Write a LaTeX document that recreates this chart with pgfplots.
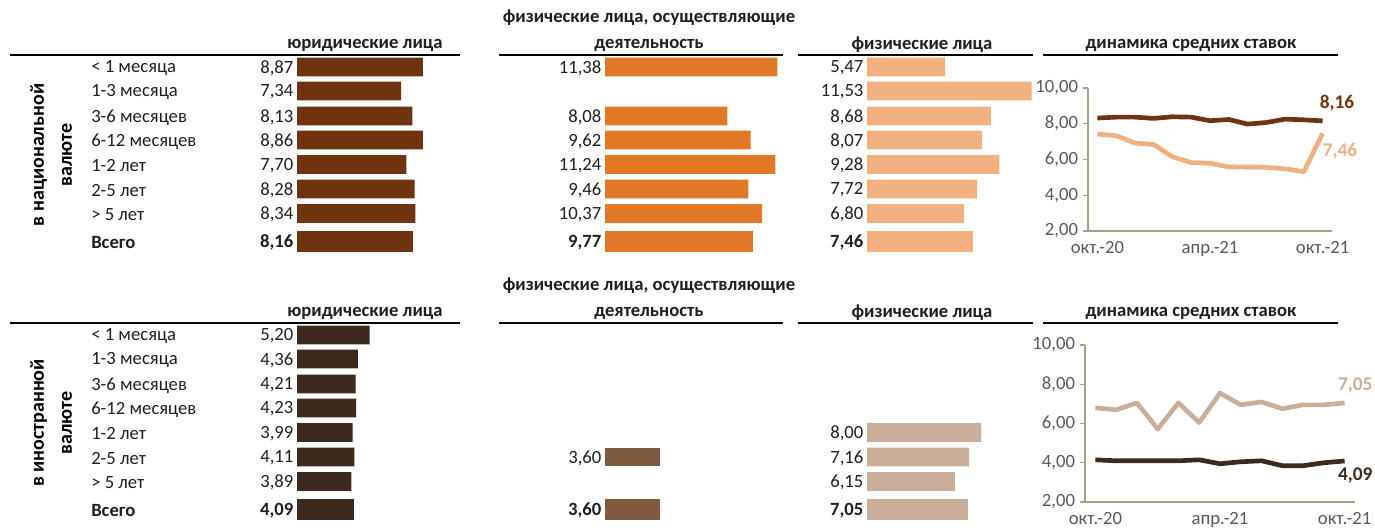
\documentclass[border=0pt]{standalone}
\usepackage{pgfplots}
\usepackage{pgfplotstable}
\pgfplotsset{compat=1.18}
\usepackage{fontspec}
\setmainfont{Carlito}

\definecolor{nlegal}{HTML}{70330F}
\definecolor{nent}{HTML}{E07828}
\definecolor{nind}{HTML}{F0B080}
\definecolor{flegal}{HTML}{3D2A1F}
\definecolor{fent}{HTML}{7F5A3F}
\definecolor{find}{HTML}{C9AF9A}
\definecolor{txt}{HTML}{1F1F1F}
\definecolor{axgray}{HTML}{A3A38A}
\definecolor{ticktxt}{HTML}{595959}

\newcommand{\fs}{\fontsize{14}{16}\selectfont}

% bar data: pos = row position (px), val = rate
\pgfplotstableread{
pos val
67 8.87
91 7.34
116 8.13
140 8.86
164.5 7.70
189 8.28
213.5 8.34
241.5 8.16
}\NLegal
\pgfplotstableread{
pos val
67 11.38
116 8.08
140 9.62
164.5 11.24
189 9.46
213.5 10.37
241.5 9.77
}\NEnt
\pgfplotstableread{
pos val
67 5.47
91 11.53
116 8.68
140 8.07
164.5 9.28
189 7.72
213.5 6.80
241.5 7.46
}\NInd
\pgfplotstableread{
pos val
67 5.20
91 4.36
116 4.21
140 4.23
164.5 3.99
189 4.11
213.5 3.89
241.5 4.09
}\FLegal
\pgfplotstableread{
pos val
189 3.60
241.5 3.60
}\FEnt
\pgfplotstableread{
pos val
164.5 8.00
189 7.16
213.5 6.15
241.5 7.05
}\FInd
% trends: m = month index (0 = Oct-20 ... 12 = Oct-21)
\pgfplotstableread{
m legal ind
0 8.32 7.42
1 8.37 7.33
2 8.37 6.92
3 8.30 6.84
4 8.39 6.15
5 8.37 5.83
6 8.17 5.79
7 8.24 5.58
8 7.98 5.57
9 8.07 5.56
10 8.26 5.48
11 8.22 5.32
12 8.16 7.46
}\NTrend
\pgfplotstableread{
m legal ind
0 4.15 6.80
1 4.10 6.70
2 4.10 7.05
3 4.10 5.72
4 4.10 7.05
5 4.15 6.05
6 3.95 7.55
7 4.05 6.95
8 4.10 7.10
9 3.85 6.75
10 3.85 6.95
11 4.00 6.95
12 4.09 7.05
}\FTrend

\pgfplotsset{
  numfmt/.style={/pgf/number format/fixed, /pgf/number format/fixed zerofill,
    /pgf/number format/precision=2, /pgf/number format/use comma,
    /pgf/number format/assume math mode=true},
  barcol/.style={scale only axis, y dir=reverse, ymin=55, ymax=255, height=150pt,
    xmin=0, axis line style={draw=none}, major tick length=0pt,
    xtick=\empty, ytick=\empty, clip=false, numfmt, anchor=north west},
  rowlabels/.style={ytick={67,91,116,140,164.5,189,213.5,241.5},
    yticklabels={{< 1 месяца},{1-3 месяца},{3-6 месяцев},{6-12 месяцев},{1-2 лет},{2-5 лет},{> 5 лет},{\textbf{Всего}}},
    yticklabel style={font=\fs, text=txt, anchor=west, inner sep=0pt, xshift=-154.5pt, yshift=-1pt}},
  linech/.style={scale only axis, xmin=-0.5, xmax=12.5, ymin=2, ymax=10,
    axis lines*=left, axis line style={axgray, line width=0.9pt},
    ytick={2,4,6,8,10}, xtick={0,6,12}, xticklabels={окт.-20,апр.-21,окт.-21},
    minor xtick={-0.5,5.5,11.5}, xtick style={draw=none},
    tick align=outside, major tick length=4pt, minor tick length=4pt,
    ytick style={axgray, line width=0.9pt}, minor x tick style={axgray, line width=0.9pt},
    tick label style={font=\fs, text=ticktxt}, numfmt, clip=false, anchor=south west},
}
\newcommand{\barcolumn}[2]{%
  \addplot[xbar, bar shift=0pt, bar width=13.9pt, fill=#2, draw=none, restrict y to domain=0:230] table[x=val,y=pos]{#1};
  \addplot[xbar, bar shift=0pt, bar width=15.75pt, fill=#2, draw=none, restrict y to domain=230:260] table[x=val,y=pos]{#1};
  \addplot[draw=none, restrict y to domain=0:230, nodes near coords, point meta=\thisrow{val},
    every node near coord/.append style={font=\fs, text=txt, anchor=east, inner sep=2.5pt, yshift=-0.8pt}] table[x expr=0,y=pos]{#1};
  \addplot[draw=none, restrict y to domain=230:260, nodes near coords, point meta=\thisrow{val},
    every node near coord/.append style={font=\bfseries\fs, text=txt, anchor=east, inner sep=2.5pt, yshift=-0.8pt}] table[x expr=0,y=pos]{#1};
}

\begin{document}
\begin{tikzpicture}
\useasboundingbox (0pt,0pt) rectangle (1031.25pt,-399pt);

% ---------- headers and rules ----------
\foreach \dy in {0,201} {
  \draw[line width=1.1pt, black] (7.5pt,-41.25pt-\dy pt) -- (345pt,-41.25pt-\dy pt);
  \draw[line width=1.1pt, black] (374.25pt,-41.25pt-\dy pt) -- (587.25pt,-41.25pt-\dy pt);
  \draw[line width=1.1pt, black] (598.5pt,-41.25pt-\dy pt) -- (774.75pt,-41.25pt-\dy pt);
  \draw[line width=1.1pt, black] (782.25pt,-41.25pt-\dy pt) -- (1003.5pt,-41.25pt-\dy pt);
  \node[font=\bfseries\fs, text=txt] at (273.75pt,-33.75pt-\dy pt) {юридические лица};
  \node[font=\bfseries\fs, text=txt] at (486.75pt,-13.5pt-\dy pt) {физические лица, осуществляющие};
  \node[font=\bfseries\fs, text=txt] at (486.75pt,-33.75pt-\dy pt) {деятельность};
  \node[font=\bfseries\fs, text=txt] at (691.5pt,-33.75pt-\dy pt) {физические лица};
  \node[font=\bfseries\fs, text=txt] at (893.25pt,-33.75pt-\dy pt) {динамика средних ставок};
}
\node[rotate=90, align=center, font=\bfseries\fontsize{15}{21}\selectfont, text=black] at (38.25pt,-116.25pt) {в национальной\\валюте};
\node[rotate=90, align=center, font=\bfseries\fontsize{15}{21}\selectfont, text=black] at (38.25pt,-317.25pt) {в иностранной\\валюте};

% ---------- national currency bars ----------
\begin{axis}[barcol, rowlabels, at={(222.75pt,-41.25pt)}, width=106.5pt, xmax=10]
\barcolumn{\NLegal}{nlegal}
\end{axis}
\begin{axis}[barcol, at={(453.75pt,-41.25pt)}, width=136.35pt, xmax=12]
\barcolumn{\NEnt}{nent}
\end{axis}
\begin{axis}[barcol, at={(650.25pt,-41.25pt)}, width=128.43pt, xmax=12]
\barcolumn{\NInd}{nind}
\end{axis}

% ---------- foreign currency bars ----------
\begin{axis}[barcol, rowlabels, at={(222.75pt,-242.25pt)}, width=104.625pt, xmax=10]
\barcolumn{\FLegal}{flegal}
\end{axis}
\begin{axis}[barcol, at={(453.75pt,-242.25pt)}, width=136.35pt, xmax=12]
\barcolumn{\FEnt}{fent}
\end{axis}
\begin{axis}[barcol, at={(650.25pt,-242.25pt)}, width=128.43pt, xmax=12]
\barcolumn{\FInd}{find}
\end{axis}

% ---------- trend charts ----------
\begin{axis}[linech, at={(816pt,-173.25pt)}, width=183pt, height=107.25pt]
\addplot[nind, line width=3.5pt, line join=round] table[x=m,y=ind]{\NTrend};
\addplot[nlegal, line width=3.5pt, line join=round] table[x=m,y=legal]{\NTrend};
\addplot[draw=none, restrict x to domain=11.9:12.1, nodes near coords, point meta=y,
  every node near coord/.append style={anchor=center, font=\bfseries\fontsize{14.5}{16}\selectfont, text=nlegal, xshift=10.8pt, yshift=13.5pt}] table[x=m,y=legal]{\NTrend};
\addplot[draw=none, restrict x to domain=11.9:12.1, nodes near coords, point meta=y,
  every node near coord/.append style={anchor=center, font=\bfseries\fontsize{14.5}{16}\selectfont, text=nind, xshift=13pt, yshift=-13.7pt}] table[x=m,y=ind]{\NTrend};
\end{axis}

\begin{axis}[linech, at={(813.75pt,-376.5pt)}, width=202.5pt, height=117.75pt]
\addplot[find, line width=3.5pt, line join=round] table[x=m,y=ind]{\FTrend};
\addplot[flegal, line width=3.5pt, line join=round] table[x=m,y=legal]{\FTrend};
\addplot[draw=none, restrict x to domain=11.9:12.1, nodes near coords, point meta=y,
  every node near coord/.append style={anchor=center, font=\bfseries\fontsize{14.5}{16}\selectfont, text=find, xshift=8pt, yshift=12.7pt}] table[x=m,y=ind]{\FTrend};
\addplot[draw=none, restrict x to domain=11.9:12.1, nodes near coords, point meta=y,
  every node near coord/.append style={anchor=center, font=\bfseries\fontsize{14.5}{16}\selectfont, text=flegal, xshift=8pt, yshift=-10.5pt}] table[x=m,y=legal]{\FTrend};
\end{axis}
\end{tikzpicture}
\end{document}
